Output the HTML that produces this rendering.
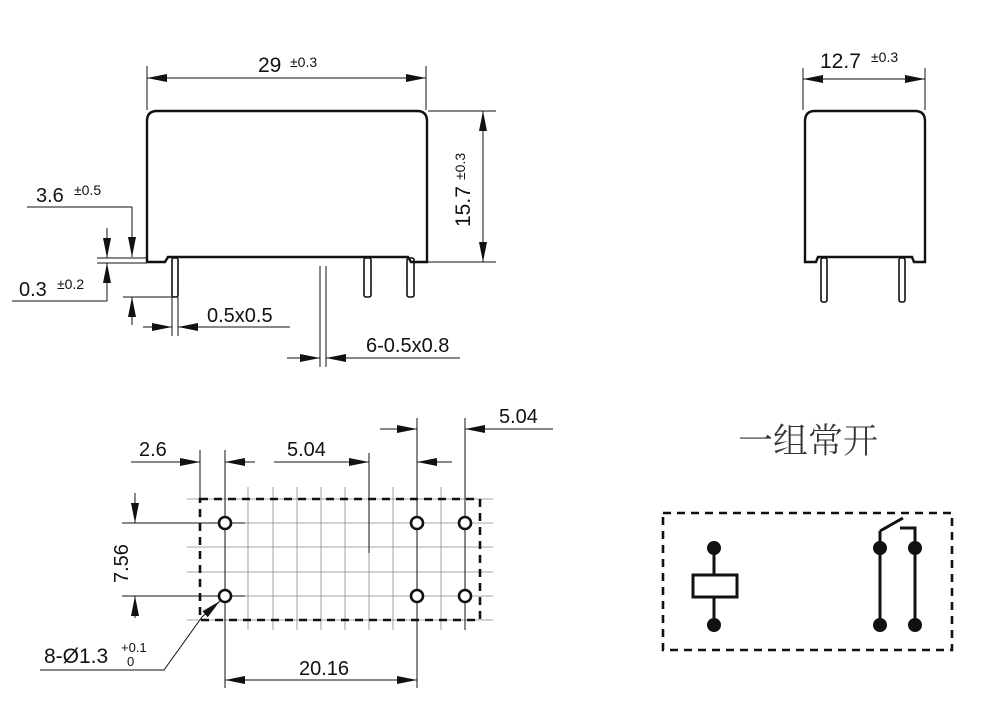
<!DOCTYPE html>
<html><head><meta charset="utf-8"><style>
html,body{margin:0;padding:0;background:#fff;}
svg{display:block;}
text{font-family:"Liberation Sans",Arial,sans-serif;fill:#111;}
</style></head><body>
<svg width="992" height="709" viewBox="0 0 992 709" xmlns="http://www.w3.org/2000/svg">
<defs>
<marker id="a" viewBox="0 0 20 8" refX="20" refY="4" markerWidth="20" markerHeight="8" markerUnits="userSpaceOnUse" orient="auto-start-reverse">
<path d="M0,0 L20,4 L0,8 Z" fill="#111"/></marker>
</defs>
<g stroke="#111" fill="none">
<path d="M147,262 L147,121 Q147,111 157,111 L417,111 Q427,111 427,121 L427,262 L411,262 L408,257 L168,257 L165,262 Z" stroke-width="2.4"/>
<g stroke-width="1.6">
<rect x="172" y="258" width="6" height="39" rx="2"/>
<rect x="364" y="258" width="7" height="39" rx="2"/>
<rect x="407" y="258" width="7" height="39" rx="2"/>
</g>
<g stroke-width="1">
<line x1="147" y1="66" x2="147" y2="110"/><line x1="426" y1="66" x2="426" y2="110"/>
<line x1="147" y1="78" x2="426" y2="78" marker-start="url(#a)" marker-end="url(#a)"/>
<line x1="428" y1="111" x2="496" y2="111"/><line x1="428" y1="262" x2="496" y2="262"/>
<line x1="483" y1="111" x2="483" y2="262" marker-start="url(#a)" marker-end="url(#a)"/>
<line x1="27" y1="207" x2="132" y2="207"/>
<line x1="132" y1="207" x2="132" y2="257" marker-end="url(#a)"/>
<line x1="132" y1="325" x2="132" y2="297" marker-end="url(#a)"/>
<line x1="123" y1="297" x2="175" y2="297"/>
<line x1="97" y1="258" x2="147" y2="258"/><line x1="97" y1="263" x2="147" y2="263"/>
<line x1="107" y1="228" x2="107" y2="258" marker-end="url(#a)"/>
<line x1="107" y1="301" x2="107" y2="263" marker-end="url(#a)"/>
<line x1="12" y1="301" x2="107" y2="301"/>
<line x1="172" y1="297" x2="172" y2="336"/><line x1="178" y1="297" x2="178" y2="336"/>
<line x1="143" y1="327" x2="172" y2="327" marker-end="url(#a)"/>
<line x1="290" y1="327" x2="178" y2="327" marker-end="url(#a)"/>
<line x1="320" y1="266" x2="320" y2="367"/><line x1="326" y1="266" x2="326" y2="367"/>
<line x1="287" y1="358" x2="320" y2="358" marker-end="url(#a)"/>
<line x1="460" y1="358" x2="326" y2="358" marker-end="url(#a)"/>
</g>
<path d="M805,262 L805,121 Q805,111 815,111 L915,111 Q925,111 925,121 L925,262 L914,262 L912,257 L818,257 L816,262 Z" stroke-width="2.4"/>
<g stroke-width="1.6">
<rect x="821" y="258" width="6" height="44" rx="2"/>
<rect x="899" y="258" width="6" height="44" rx="2"/>
</g>
<g stroke-width="1">
<line x1="803" y1="68" x2="803" y2="110"/><line x1="925" y1="68" x2="925" y2="110"/>
<line x1="803" y1="79" x2="925" y2="79" marker-start="url(#a)" marker-end="url(#a)"/>
</g>
<g stroke="#888" stroke-width="0.8">
<line x1="248" y1="487" x2="248" y2="630"/><line x1="273" y1="487" x2="273" y2="630"/>
<line x1="297" y1="487" x2="297" y2="630"/><line x1="321" y1="487" x2="321" y2="630"/>
<line x1="345" y1="487" x2="345" y2="630"/><line x1="393" y1="487" x2="393" y2="630"/>
<line x1="441" y1="487" x2="441" y2="630"/>
<line x1="369" y1="487" x2="369" y2="630"/>
<line x1="187" y1="499" x2="493" y2="499"/><line x1="187" y1="547" x2="493" y2="547"/>
<line x1="187" y1="572" x2="493" y2="572"/><line x1="187" y1="620" x2="493" y2="620"/>
<line x1="245" y1="523" x2="493" y2="523"/><line x1="245" y1="596" x2="493" y2="596"/>
</g>
<rect x="200" y="499" width="280" height="121" stroke-width="2.6" stroke-dasharray="8,6"/>
<g stroke-width="1">
<line x1="225" y1="450" x2="225" y2="688"/><line x1="417" y1="418" x2="417" y2="688"/>
<line x1="465" y1="418" x2="465" y2="630"/><line x1="200" y1="450" x2="200" y2="499"/>
<line x1="369" y1="453" x2="369" y2="553"/>
<line x1="131" y1="462" x2="200" y2="462" marker-end="url(#a)"/>
<line x1="255" y1="462" x2="225" y2="462" marker-end="url(#a)"/>
<line x1="274" y1="462" x2="369" y2="462" marker-end="url(#a)"/>
<line x1="452" y1="462" x2="417" y2="462" marker-end="url(#a)"/>
<line x1="380" y1="429" x2="417" y2="429" marker-end="url(#a)"/>
<line x1="553" y1="429" x2="465" y2="429" marker-end="url(#a)"/>
<line x1="122" y1="523" x2="245" y2="523"/><line x1="122" y1="596" x2="245" y2="596"/>
<line x1="135" y1="493" x2="135" y2="523" marker-end="url(#a)"/>
<line x1="135" y1="618" x2="135" y2="596" marker-end="url(#a)"/>
<line x1="225" y1="680" x2="417" y2="680" marker-start="url(#a)" marker-end="url(#a)"/>
<polyline points="40,670 164,670 202,617"/>
<line x1="202" y1="617" x2="220" y2="601" marker-end="url(#a)"/>
</g>
<g stroke-width="2.6" fill="#fff">
<circle cx="225" cy="523" r="6"/><circle cx="417" cy="523" r="6"/><circle cx="465" cy="523" r="6"/>
<circle cx="225" cy="596" r="6"/><circle cx="417" cy="596" r="6"/><circle cx="465" cy="596" r="6"/>
</g>
<rect x="663" y="513" width="289" height="137" stroke-width="2.6" stroke-dasharray="8,6"/>
<g stroke-width="3">
<line x1="714" y1="548" x2="714" y2="625"/>
<rect x="693" y="575" width="44" height="22" fill="#fff"/>
<line x1="880" y1="625" x2="880" y2="531"/><line x1="880" y1="531" x2="903" y2="518"/>
<polyline points="915,625 915,528 900,528"/>
</g>
<g fill="#111" stroke="none">
<circle cx="714" cy="548" r="7"/><circle cx="714" cy="625" r="7"/>
<circle cx="880" cy="548" r="7"/><circle cx="880" cy="625" r="7"/>
<circle cx="915" cy="548" r="7"/><circle cx="915" cy="625" r="7"/>
</g>
</g>
<text x="258" y="72" font-size="21">29</text><text x="290" y="67" font-size="14">±0.3</text>
<text transform="translate(470,227) rotate(-90)" font-size="21">15.7</text>
<text transform="translate(465,180) rotate(-90)" font-size="14">±0.3</text>
<text x="36" y="202" font-size="20">3.6</text><text x="74" y="195" font-size="14">±0.5</text>
<text x="19" y="296" font-size="20">0.3</text><text x="57" y="289" font-size="14">±0.2</text>
<text x="207" y="322" font-size="20">0.5x0.5</text>
<text x="366" y="352" font-size="20">6-0.5x0.8</text>
<text x="820" y="68" font-size="21">12.7</text><text x="871" y="62" font-size="14">±0.3</text>
<text x="139" y="456" font-size="20">2.6</text>
<text x="287" y="456" font-size="20">5.04</text>
<text x="499" y="423" font-size="20">5.04</text>
<text transform="translate(128,583) rotate(-90)" font-size="20">7.56</text>
<text x="299" y="675" font-size="20">20.16</text>
<text x="44" y="663" font-size="21">8-Ø1.3</text>
<text x="121" y="652" font-size="13">+0.1</text><text x="127" y="666" font-size="13">0</text>
<text x="738" y="453" font-size="35" style="font-family:'Noto Serif CJK SC','Noto Sans CJK SC',serif;font-weight:300;fill:#333">一组常开</text>
</svg>
</body></html>
